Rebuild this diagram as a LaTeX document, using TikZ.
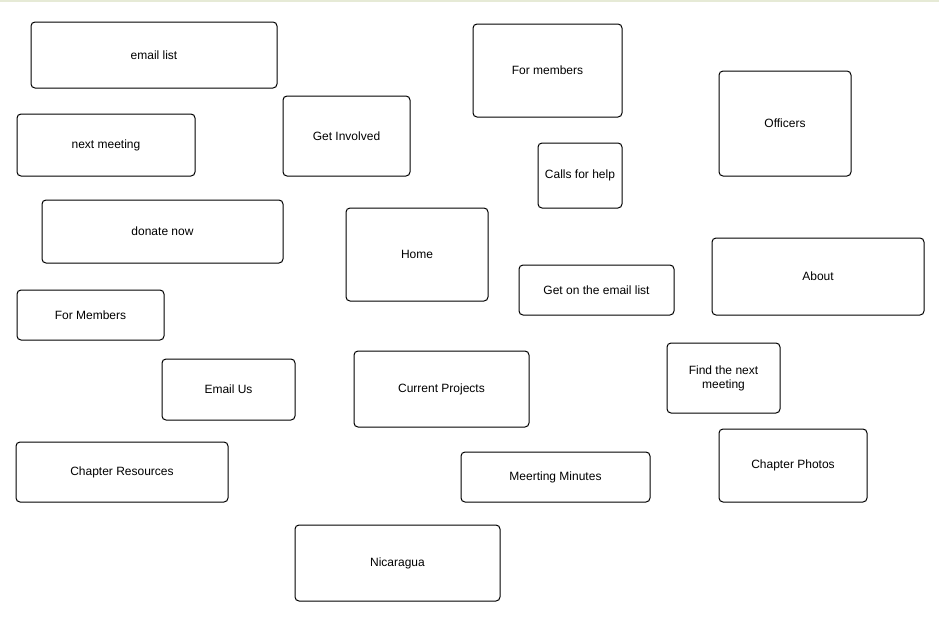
\documentclass[tikz,border=0pt]{standalone}
\usepackage{fontspec}
\setmainfont{Liberation Sans}
\definecolor{topline}{HTML}{E6EAD6}
\tikzset{
  box/.style={draw=black, line width=1pt, rounded corners=4pt, fill=white, inner sep=0pt, align=center, font=\fontsize{12}{14}\selectfont},
}
\newcommand{\bx}[6]{\node[box, minimum width={#4-#2}, minimum height={#5-#3}] (#1) at ({(#2+#4)/2},{(#3+#5)/2}) {#6};}
\begin{document}
\begin{tikzpicture}[x=1pt,y=-1pt]
\useasboundingbox (0,0) rectangle (939,627);
\fill[white] (0,0) rectangle (939,627);
\draw[topline, line width=1.5pt] (0,0.75) -- (939,0.75);
\bx{emaillist}{31}{22}{277}{88}{email list}
\bx{formembers}{473}{24}{622}{117}{For members}
\bx{officers}{719}{71}{851}{176}{Officers}
\bx{nextmeeting}{17}{114}{195}{176}{next meeting}
\bx{getinvolved}{283}{96}{410}{176}{Get Involved}
\bx{callsforhelp}{538}{143}{622}{208}{Calls for help}
\bx{donatenow}{42}{200}{283}{263}{donate now}
\bx{home}{346}{208}{488}{301}{Home}
\bx{getemail}{519}{265}{674}{315}{Get on the email list}
\bx{about}{712}{238}{924}{315}{About}
\bx{formembers2}{17}{290}{164}{340}{For Members}
\bx{emailus}{162}{359}{295}{420}{Email Us}
\bx{currentprojects}{354}{351}{529}{427}{Current Projects}
\bx{findnext}{667}{343}{780}{413}{Find the next\\meeting}
\bx{chapterres}{16}{442}{228}{502}{Chapter Resources}
\bx{minutes}{461}{452}{650}{502}{Meerting Minutes}
\bx{photos}{719}{429}{867}{502}{Chapter Photos}
\bx{nicaragua}{295}{525}{500}{601}{Nicaragua}
\end{tikzpicture}
\end{document}
